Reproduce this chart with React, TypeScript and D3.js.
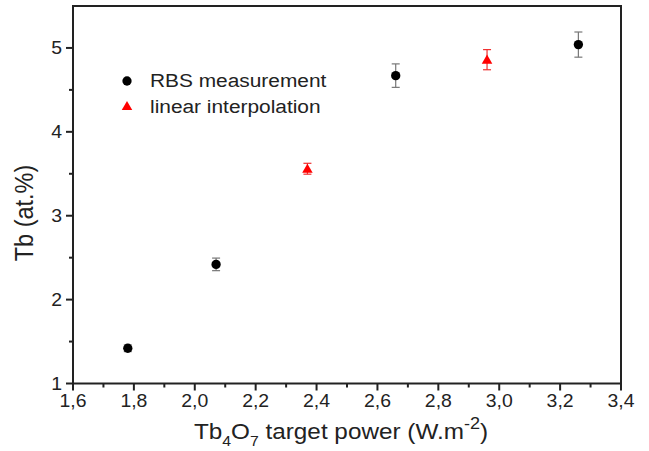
import React from "react";
import * as d3 from "d3";

// RBS-measured Tb content vs Tb4O7 target power
const rbsPower = [1.78, 2.07, 2.66, 3.26];
const rbsTb = [1.42, 2.42, 4.67, 5.04];
const rbsErr = [0.04, 0.075, 0.14, 0.15];

// Values obtained by linear interpolation
const interpPower = [2.37, 2.96];
const interpTb = [3.56, 4.86];
const interpErr = [0.065, 0.12];

const xTicks = [1.6, 1.8, 2.0, 2.2, 2.4, 2.6, 2.8, 3.0, 3.2, 3.4];
const yTicks = [1, 2, 3, 4, 5];
const legendLabels = ["RBS measurement", "linear interpolation"];

const W = 649;
const H = 451;
const FONT = "'Liberation Sans', Arial, sans-serif";
// glyphs in this figure are slightly wide
const SX = 1.11;

export default function App() {
  const x = d3.scaleLinear().domain([1.6, 3.4]).range([73, 621]);
  const y = d3.scaleLinear().domain([1, 5.5]).range([383.5, 6]);
  const [x0, x1] = x.range();
  const [yb, yt] = y.range();

  const fmt = (v: number) => d3.format(".1f")(v).replace(".", ",");
  const xMinor = xTicks.slice(0, -1).map((t) => t + 0.1);
  const yMinor = [1.5, 2.5, 3.5, 4.5];

  const circle = d3.symbol(d3.symbolCircle, 68)()!;
  const tri = d3.symbol(d3.symbolTriangle, 48)()!;

  const rbs = rbsPower.map((p, i) => ({ p, v: rbsTb[i], e: rbsErr[i] }));
  const interp = interpPower.map((p, i) => ({ p, v: interpTb[i], e: interpErr[i] }));

  const errBar = (d: { p: number; v: number; e: number }, color: string, key: string) => {
    const cx = x(d.p);
    const ya = y(d.v + d.e);
    const yz = y(d.v - d.e);
    return (
      <g key={key} stroke={color} strokeWidth={1.2} fill="none">
        <line x1={cx} x2={cx} y1={ya} y2={yz} />
        <line x1={cx - 4} x2={cx + 4} y1={ya} y2={ya} />
        <line x1={cx - 4} x2={cx + 4} y1={yz} y2={yz} />
      </g>
    );
  };

  return (
    <svg
      width={W}
      height={H}
      style={{ position: "absolute", left: 0, top: 0, background: "#fff" }}
      fontFamily={FONT}
    >
      {/* error bars */}
      {rbs.map((d, i) => errBar(d, "#777", "re" + i))}
      {interp.map((d, i) => errBar(d, "#f03030", "ie" + i))}

      {/* markers */}
      {rbs.map((d, i) => (
        <path key={"r" + i} d={circle} transform={`translate(${x(d.p)},${y(d.v)})`} fill="#000" />
      ))}
      {interp.map((d, i) => (
        <path key={"i" + i} d={tri} transform={`translate(${x(d.p)},${y(d.v) + 1})`} fill="#ff0000" />
      ))}

      {/* frame */}
      <rect x={x0} y={yt} width={x1 - x0} height={yb - yt} fill="none" stroke="#222" strokeWidth={2} />

      {/* x axis ticks */}
      {xTicks.map((t) => (
        <g key={"xt" + t}>
          <line x1={x(t)} x2={x(t)} y1={yb} y2={yb + 7} stroke="#222" strokeWidth={2} />
          <text
            transform={`translate(${x(t)},407) scale(${SX},1)`}
            textAnchor="middle"
            fontSize={17.5}
            fill="#222"
          >
            {fmt(t)}
          </text>
        </g>
      ))}
      {xMinor.map((t) => (
        <line key={"xm" + t} x1={x(t)} x2={x(t)} y1={yb} y2={yb + 4} stroke="#222" strokeWidth={2} />
      ))}

      {/* y axis ticks */}
      {yTicks.map((t) => (
        <g key={"yt" + t}>
          <line x1={x0 - 7} x2={x0} y1={y(t)} y2={y(t)} stroke="#222" strokeWidth={2} />
          <text
            transform={`translate(62,${y(t) + 6.5}) scale(${SX},1)`}
            textAnchor="end"
            fontSize={17.5}
            fill="#222"
          >
            {t}
          </text>
        </g>
      ))}
      {yMinor.map((t) => (
        <line key={"ym" + t} x1={x0 - 4} x2={x0} y1={y(t)} y2={y(t)} stroke="#222" strokeWidth={2} />
      ))}

      {/* axis titles */}
      <text
        transform={`translate(341,439) scale(1.13,1)`}
        textAnchor="middle"
        fontSize={21.5}
        fill="#222"
      >
        Tb<tspan fontSize={14} dy={7}>4</tspan>
        <tspan dy={-7}>O</tspan>
        <tspan fontSize={14} dy={7}>7</tspan>
        <tspan dy={-7}> target power (W.m</tspan>
        <tspan fontSize={16} dy={-10}>-2</tspan>
        <tspan dy={10}>)</tspan>
      </text>
      <text
        transform={`translate(33,213) scale(${SX},1) rotate(-90)`}
        textAnchor="middle"
        fontSize={23.5}
        fill="#222"
      >
        Tb (at.%)
      </text>

      {/* legend */}
      <path d={circle} transform="translate(127,81)" fill="#000" />
      <path d={tri} transform="translate(127,107)" fill="#ff0000" />
      <text transform={`translate(150,87) scale(1.16,1)`} fontSize={18} fill="#222">
        {legendLabels[0]}
      </text>
      <text transform={`translate(150,112.5) scale(1.16,1)`} fontSize={18} fill="#222">
        {legendLabels[1]}
      </text>
    </svg>
  );
}
